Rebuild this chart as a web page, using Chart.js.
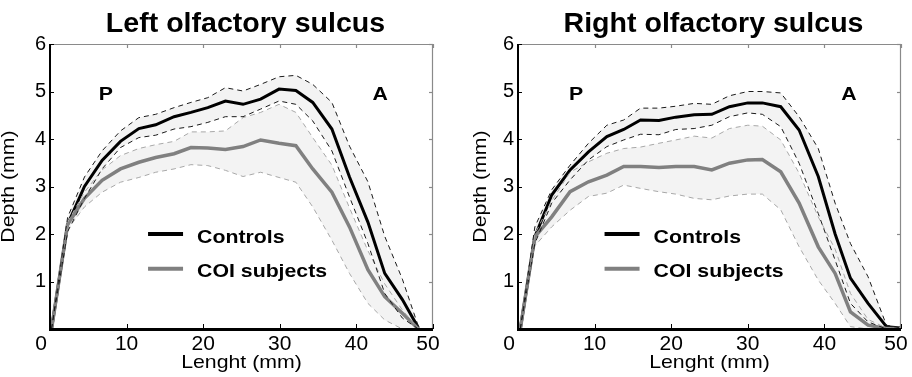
<!DOCTYPE html>
<html><head><meta charset="utf-8">
<script src="https://cdn.jsdelivr.net/npm/chart.js@4/dist/chart.umd.min.js"></script>
<style>
html,body{margin:0;padding:0;background:#fff;}
#wrap{position:relative;width:912px;height:377px;overflow:hidden;}
.c{position:absolute;top:0;width:456px;height:377px;}
</style></head><body>
<div id="wrap">
<div class="c" style="left:0"><canvas id="cl" width="456" height="377"></canvas></div>
<div class="c" style="left:456px"><canvas id="cr" width="456" height="377"></canvas></div>
</div>
<script>
// ---------- data ----------
const xTicks = [0, 10, 20, 30, 40, 50];
const yTicks = [1, 2, 3, 4, 5, 6];
const seriesNames = ['Controls', 'COI subjects'];
const panelTitles = ['Left olfactory sulcus', 'Right olfactory sulcus'];
const xTitle = 'Lenght (mm)';
const yTitle = 'Depth (mm)';
const endLabels = ['P', 'A'];

// Left panel
const leftX = [0.2, 2.3, 4.5, 6.8, 9.2, 11.6, 13.8, 16.2, 18.4, 20.6, 22.9, 25.2, 27.5, 29.9, 32.1, 34.3, 36.8, 39.1, 41.5, 43.7, 46.0, 48.1];
const leftControlsMean  = [0, 2.2, 3.0, 3.55, 3.95, 4.22, 4.3, 4.47, 4.56, 4.66, 4.8, 4.73, 4.84, 5.05, 5.02, 4.77, 4.21, 3.2, 2.25, 1.17, 0.62, 0.02];
const leftControlsUpper = [0, 2.35, 3.2, 3.75, 4.17, 4.45, 4.52, 4.66, 4.77, 4.87, 5.08, 5.01, 5.15, 5.31, 5.34, 5.15, 4.77, 3.85, 3.1, 1.95, 1.05, 0.05];
const leftControlsLower = [0, 2.05, 2.75, 3.37, 3.82, 4.03, 4.08, 4.21, 4.26, 4.35, 4.47, 4.47, 4.63, 4.8, 4.73, 4.38, 3.75, 2.78, 1.8, 0.75, 0.23, 0];
const leftCoiMean  = [0, 2.2, 2.75, 3.13, 3.37, 3.51, 3.61, 3.69, 3.82, 3.81, 3.78, 3.84, 3.98, 3.91, 3.86, 3.37, 2.88, 2.15, 1.25, 0.68, 0.33, 0];
const leftCoiUpper = [0, 2.25, 2.88, 3.35, 3.65, 3.8, 3.88, 3.95, 4.15, 4.15, 4.17, 4.45, 4.56, 4.73, 4.56, 4.03, 3.45, 2.55, 1.65, 0.95, 0.4, 0];
const leftCoiLower = [0, 2.1, 2.57, 2.88, 3.09, 3.19, 3.3, 3.37, 3.46, 3.44, 3.34, 3.21, 3.3, 3.19, 3.09, 2.57, 1.87, 1.17, 0.54, 0.19, 0, 0];

// Right panel
const rightX = [0.3, 2.2, 4.4, 6.8, 9.2, 11.6, 13.8, 16.0, 18.4, 20.6, 23.0, 25.3, 27.6, 30.0, 31.9, 34.3, 36.7, 39.2, 41.4, 43.4, 45.7, 48.1, 50.0];
const rightControlsMean  = [0, 1.94, 2.82, 3.35, 3.73, 4.05, 4.2, 4.4, 4.39, 4.46, 4.51, 4.52, 4.68, 4.76, 4.76, 4.68, 4.19, 3.21, 2.0, 1.07, 0.54, 0.05, 0.02];
const rightControlsUpper = [0, 2.15, 2.93, 3.45, 3.91, 4.29, 4.4, 4.65, 4.65, 4.69, 4.75, 4.73, 4.91, 5.0, 5.0, 4.97, 4.47, 3.8, 2.65, 1.8, 1.1, 0.08, 0.02];
const rightControlsLower = [0, 1.8, 2.65, 3.14, 3.56, 3.84, 3.98, 4.1, 4.09, 4.2, 4.22, 4.29, 4.47, 4.55, 4.52, 4.26, 3.49, 2.43, 1.45, 0.54, 0.15, 0, 0];
const rightCoiMean  = [0, 1.94, 2.36, 2.89, 3.1, 3.24, 3.42, 3.42, 3.4, 3.42, 3.42, 3.35, 3.49, 3.56, 3.57, 3.31, 2.65, 1.73, 1.17, 0.36, 0.08, 0.01, 0.01];
const rightCoiUpper = [0, 2.0, 2.7, 3.3, 3.52, 3.7, 3.8, 3.83, 3.91, 3.98, 4.06, 4.02, 4.22, 4.29, 4.27, 3.98, 3.28, 2.36, 1.68, 0.75, 0.2, 0.02, 0.01];
const rightCoiLower = [0, 1.75, 2.15, 2.5, 2.79, 2.86, 3.03, 2.96, 2.89, 2.84, 2.75, 2.72, 2.8, 2.84, 2.84, 2.51, 1.73, 1.03, 0.54, 0.05, 0, 0, 0];

// ---------- drawing ----------
const FONT = '"Liberation Sans", Arial, Helvetica, sans-serif';
const toXY = (xs, ys) => xs.map((x, i) => ({x: x, y: ys[i]}));

function txt(ctx, s, x, y, font, align, sx, rot) {
  ctx.save();
  ctx.translate(x, y);
  if (rot) ctx.rotate(rot);
  ctx.scale(sx || 1, 1);
  ctx.font = font;
  ctx.fillStyle = '#000';
  ctx.textAlign = align || 'center';
  ctx.textBaseline = 'alphabetic';
  ctx.fillText(s, 0, 0);
  ctx.restore();
}
function seg(ctx, x1, y1, x2, y2) { ctx.beginPath(); ctx.moveTo(x1, y1); ctx.lineTo(x2, y2); ctx.stroke(); }

const decorPlugin = {
  id: 'decor',
  afterDatasetsDraw(chart) {
    const {ctx, chartArea: a, scales: {x, y}} = chart;
    ctx.save();
    ctx.strokeStyle = '#8a8a8a'; ctx.lineWidth = 1.2;
    seg(ctx, a.left, a.top + 0.5, a.right, a.top + 0.5);
    seg(ctx, a.right - 0.5, a.top, a.right - 0.5, a.bottom);
    xTicks.forEach(v => { const px = Math.round(x.getPixelForValue(v)) + 0.5; seg(ctx, px, a.top, px, a.top + 4); });
    yTicks.forEach(v => { const py = Math.round(y.getPixelForValue(v)) + 0.5; seg(ctx, a.right, py, a.right - 4, py); });
    ctx.strokeStyle = '#000'; ctx.lineWidth = 1;
    xTicks.forEach(v => { const px = Math.round(x.getPixelForValue(v)) + 0.5; seg(ctx, px, a.bottom, px, a.bottom - 5); });
    yTicks.forEach(v => { const py = Math.round(y.getPixelForValue(v)) + 0.5; seg(ctx, a.left, py, a.left + 4, py); });
    ctx.lineWidth = 2;
    seg(ctx, a.left, a.top, a.left, a.bottom + 1);
    ctx.lineWidth = 3;
    seg(ctx, a.left - 1, a.bottom + 0.5, a.right, a.bottom + 0.5);
    ctx.restore();
  },
  afterDraw(chart) {
    const o = chart.options.plugins.decor;
    const {ctx, chartArea: a, scales: {x, y}} = chart;
    const cx = (a.left + a.right) / 2;
    // x tick labels taken from the x scale's ticks (first/last nudged inward as in the figure)
    x.ticks.forEach((t, i) => {
      const nudge = i === 0 ? -9 : (i === x.ticks.length - 1 ? -5 : 0);
      txt(ctx, String(t.value), x.getPixelForValue(t.value) + nudge, a.bottom + 21, '20px ' + FONT, 'center', 1.05);
    });
    txt(ctx, o.title, cx + 4, 32, 'bold 28px ' + FONT, 'center', 1.02);
    txt(ctx, xTitle, cx, 368, '19px ' + FONT, 'center', 1.12);
    txt(ctx, yTitle, a.left - o.yTitleGap, (a.top + a.bottom) / 2, '19px ' + FONT, 'center', 1.12, -Math.PI / 2);
    txt(ctx, endLabels[0], x.getPixelForValue(o.pX), y.getPixelForValue(4.82), 'bold 19px ' + FONT, 'center', 1.12);
    txt(ctx, endLabels[1], x.getPixelForValue(o.aX), y.getPixelForValue(4.82), 'bold 19px ' + FONT, 'center', 1.12);
    const lx1 = x.getPixelForValue(o.legX), lx2 = lx1 + 35;
    const rows = [{c: '#000', v: 2.0}, {c: '#808080', v: 1.27}];
    rows.forEach((r, i) => {
      const py = y.getPixelForValue(r.v);
      ctx.save(); ctx.strokeStyle = r.c; ctx.lineWidth = 4; seg(ctx, lx1, py, lx2, py); ctx.restore();
      txt(ctx, seriesNames[i], lx2 + 14, py + 8.5, 'bold 19px ' + FONT, 'left', 1.12);
    });
  }
};

function makePanel(id, xs, cm, cu, cl, gm, gu, gl, p) {
  const dash = (data, color, fill) => ({
    data: toXY(xs, data), borderColor: color, borderWidth: 1, borderDash: [5, 4],
    pointRadius: 0, fill: fill ? '+1' : false, backgroundColor: '#f3f3f3', tension: 0
  });
  return new Chart(document.getElementById(id), {
    type: 'line',
    data: {
      datasets: [
        dash(cu, '#1a1a1a', true),
        dash(cl, '#1a1a1a', false),
        dash(gu, '#a8a8a8', true),
        dash(gl, '#a8a8a8', false),
        {label: seriesNames[1], data: toXY(xs, gm), borderColor: '#808080', borderWidth: 3.5, pointRadius: 0, fill: false, tension: 0},
        {label: seriesNames[0], data: toXY(xs, cm), borderColor: '#000', borderWidth: 3, pointRadius: 0, fill: false, tension: 0}
      ]
    },
    options: {
      responsive: false, animation: false, devicePixelRatio: 1,
      layout: {padding: {top: 44, right: p.padRight, left: 0, bottom: 0}},
      plugins: {
        legend: {display: false}, tooltip: {enabled: false}, title: {display: false},
        filler: {drawTime: 'beforeDatasetsDraw'},
        decor: p
      },
      scales: {
        x: {
          type: 'linear', min: 0, max: 50,
          grid: {display: false, drawTicks: false}, border: {display: false},
          ticks: {display: false, font: {family: FONT, size: 20}, color: '#000', padding: 4, maxRotation: 0, autoSkip: false},
          afterBuildTicks: s => { s.ticks = xTicks.map(v => ({value: v})); },
          afterFit: s => { s.height = 48; s.paddingLeft = 0; s.paddingRight = 0; }
        },
        y: {
          type: 'linear', min: 0, max: 6,
          grid: {display: false, drawTicks: false}, border: {display: false},
          ticks: {font: {family: FONT, size: 20}, color: '#000', padding: 4},
          afterBuildTicks: s => { s.ticks = yTicks.map(v => ({value: v})); },
          afterFit: s => { s.width = p.yWidth; s.paddingTop = 0; s.paddingBottom = 0; }
        }
      }
    },
    plugins: [decorPlugin]
  });
}

makePanel('cl', leftX, leftControlsMean, leftControlsUpper, leftControlsLower, leftCoiMean, leftCoiUpper, leftCoiLower,
  {title: panelTitles[0], padRight: 23, yWidth: 50, yTitleGap: 36, pX: 7.3, aX: 43.1, legX: 12.8});
makePanel('cr', rightX, rightControlsMean, rightControlsUpper, rightControlsLower, rightCoiMean, rightCoiUpper, rightCoiLower,
  {title: panelTitles[1], padRight: 11, yWidth: 62, yTitleGap: 32, pX: 7.6, aX: 43.2, legX: 11.3});
</script>
</body></html>
